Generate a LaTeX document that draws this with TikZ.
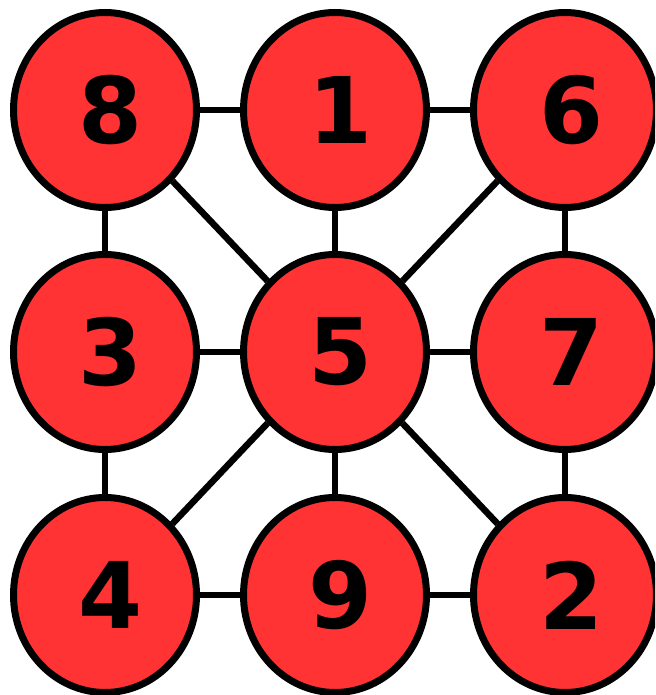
\documentclass[tikz,border=0pt]{standalone}
\usepackage{fontspec}
\setmainfont{DejaVu Sans}
\usetikzlibrary{shapes.geometric}
\definecolor{nodered}{HTML}{FF3333}
\begin{document}
\begin{tikzpicture}[x=1pt,y=-1pt,
  vert/.style={ellipse,draw=black,fill=nodered,line width=7pt,minimum width=183pt,minimum height=195pt,inner sep=0pt},
  num/.style={font=\fontsize{92}{92}\selectfont\bfseries,inner sep=0pt},
  edge/.style={line width=6.5pt,black}]
\useasboundingbox (0,0) rectangle (655,695);
\clip (0,0) rectangle (655,695);
\node[vert] (n8) at (105,110) {};
\node[vert] (n1) at (335,110) {};
\node[vert] (n6) at (565,110) {};
\node[vert] (n3) at (105,352) {};
\node[vert] (n5) at (335,352) {};
\node[vert] (n7) at (565,352) {};
\node[vert] (n4) at (105,595) {};
\node[vert] (n9) at (335,595) {};
\node[vert] (n2) at (565,595) {};
\draw[edge] (n8) -- (n1);
\draw[edge] (n1) -- (n6);
\draw[edge] (n8) -- (n3);
\draw[edge] (n8) -- (n5);
\draw[edge] (n1) -- (n5);
\draw[edge] (n6) -- (n5);
\draw[edge] (n6) -- (n7);
\draw[edge] (n3) -- (n5);
\draw[edge] (n5) -- (n7);
\draw[edge] (n3) -- (n4);
\draw[edge] (n4) -- (n5);
\draw[edge] (n5) -- (n9);
\draw[edge] (n5) -- (n2);
\draw[edge] (n7) -- (n2);
\draw[edge] (n4) -- (n9);
\draw[edge] (n9) -- (n2);
\node[num] (t8) at ([xshift=6pt]n8) {8};
\node[num] (t1) at ([xshift=6pt]n1) {1};
\node[num] (t6) at ([xshift=6pt]n6) {6};
\node[num] (t3) at ([xshift=6pt]n3) {3};
\node[num] (t5) at ([xshift=6pt]n5) {5};
\node[num] (t7) at ([xshift=6pt]n7) {7};
\node[num] (t4) at ([xshift=6pt]n4) {4};
\node[num] (t9) at ([xshift=6pt]n9) {9};
\node[num] (t2) at ([xshift=6pt]n2) {2};
\end{tikzpicture}
\end{document}
